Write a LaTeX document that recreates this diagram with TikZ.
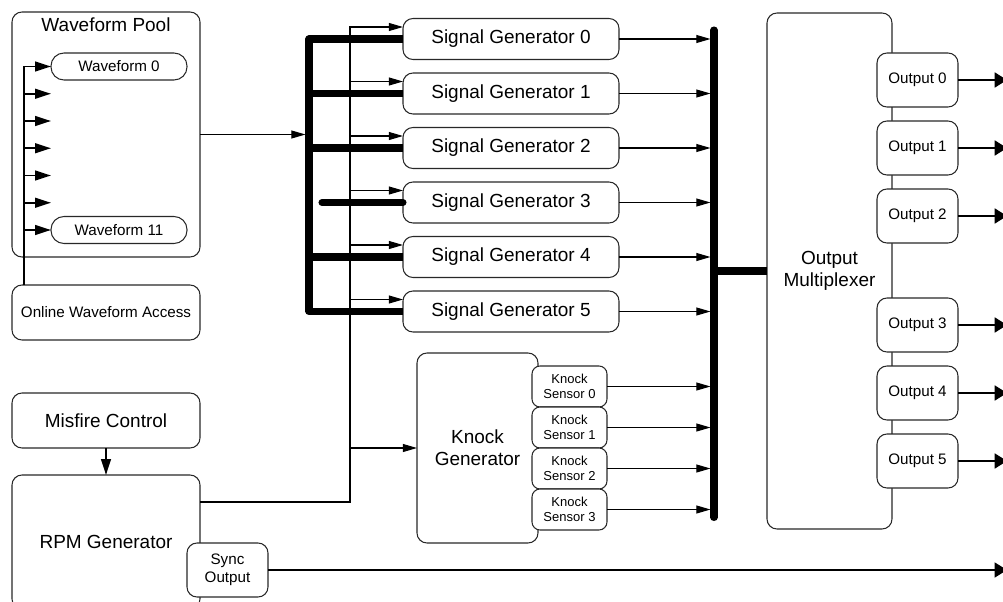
\documentclass[tikz,border=0pt]{standalone}
\usepackage{fontspec}
\setmainfont{Liberation Sans}
\usetikzlibrary{arrows.meta, positioning, calc}
\definecolor{edgegray}{RGB}{40,40,40}

\begin{document}
\begin{tikzpicture}[
    box/.style={rectangle, draw=edgegray, fill=white, line width=0.6pt, rounded corners=0.2cm, align=center, inner sep=0pt, outer sep=0pt, font=\fontsize{10.8}{12.5}\selectfont},
    wide/.style={box, minimum width=3.76cm},
    sigbox/.style={box, minimum width=4.32cm, minimum height=0.82cm},
    wavebox/.style={box, minimum width=2.72cm, minimum height=0.54cm, rounded corners=0.26cm, font=\fontsize{8.65}{10.4}\selectfont},
    outbox/.style={box, minimum width=1.62cm, minimum height=1.08cm, font=\fontsize{8.65}{10.4}\selectfont},
    sensebox/.style={box, minimum width=1.5cm, minimum height=0.82cm, rounded corners=0.16cm, font=\fontsize{7.4}{8.9}\selectfont},
    arr/.style={-{Triangle[length=8pt, width=4.5pt]}, line width=0.6pt},
    heavyarr/.style={-{Triangle[length=9pt, width=5.5pt]}, line width=1.1pt},
    outarr/.style={-{Triangle[length=7pt, width=8.5pt]}, line width=1.1pt},
    syncarr/.style={-{Triangle[length=7pt, width=8.5pt]}, line width=0.8pt},
    bus/.style={line width=4pt, line join=round}
]
    \path[use as bounding box, clip] (0,0) rectangle (20.06,-12.04);

    \node (pool) [wide, minimum height=4.9cm] at (2.12,-2.69) {};
    \node (pooltitle) [font=\fontsize{10.8}{12.5}\selectfont] at ([yshift=-0.26cm]pool.north) {Waveform Pool};
    \node (wf0) [wavebox] at (2.38,-1.33) {Waveform 0};
    \node (wf11) [wavebox] at (2.38,-4.6) {Waveform 11};
    \node (online) [wide, minimum height=1.1cm, font=\fontsize{8.65}{10.4}\selectfont] at (2.12,-6.25) {Online Waveform Access};
    \node (misfire) [wide, minimum height=1.1cm] at (2.12,-8.41) {Misfire Control};
    \node (rpm) [wide, minimum height=2.68cm] at (2.12,-10.84) {RPM Generator};
    \node (sync) [outbox] at (4.55,-11.4) {Sync\\Output};

    \node (sg0) [sigbox] at (10.22,-0.78) {Signal Generator 0};
    \foreach \i [evaluate=\i as \j using int(\i-1)] in {1,...,5}
        \node (sg\i) [sigbox, below=0.27cm of sg\j] {Signal Generator \i};

    \node (knock) [box, minimum width=2.42cm, minimum height=3.8cm] at (9.55,-8.96) {Knock\\Generator};
    \node (ks0) [sensebox] at (11.39,-7.73) {Knock\\Sensor 0};
    \foreach \i [evaluate=\i as \j using int(\i-1)] in {1,...,3}
        \node (ks\i) [sensebox, below=0cm of ks\j] {Knock\\Sensor \i};

    \node (mux) [box, minimum width=2.5cm, minimum height=10.32cm] at (16.59,-5.42) {Output\\Multiplexer};
    \node (out0) [outbox] at (18.35,-1.6) {Output 0};
    \foreach \i/\gap [evaluate=\i as \j using int(\i-1)] in {1/0.28,2/0.28,3/1.1,4/0.28,5/0.28}
        \node (out\i) [outbox, below=\gap cm of out\j] {Output \i};

    \coordinate (tapx) at (0.48,0);
    \coordinate (busx) at (6.18,0);
    \coordinate (feedx) at (7.0,0);
    \coordinate (rbus) at (14.28,0);
    \coordinate (rim) at (20.14,0);
    \coordinate (rpmout) at ([yshift=0.8cm]rpm.east);

    \coordinate (slot0) at (wf0.west);
    \coordinate (slot6) at (wf11.west);
    \foreach \k in {1,...,5}
        \coordinate (slot\k) at ($(wf0.west)!\k/6!(wf11.west)$);
    \draw[line width=1.1pt] (online.north -| tapx) -- (slot0 -| tapx);
    \foreach \k in {0,...,6}
        \draw[heavyarr] (slot\k -| tapx) -- (slot\k);

    \draw[arr, shorten >=2pt] (pool.east) -- (pool.east -| busx);
    \draw[bus] (sg0.west) -- (sg0.west -| busx) -- (sg5.west -| busx) -- (sg5.west);
    \foreach \i in {1,2,4}
        \draw[bus] (sg\i.west -| busx) -- (sg\i.west);
    \draw[bus, line cap=round] ([xshift=0.26cm]sg3.west -| busx) -- (sg3.west);

    \draw[arr] (rpmout) -- (rpmout -| feedx) -- ([yshift=0.24cm]sg0.west -| feedx) -- ([yshift=0.24cm]sg0.west);
    \foreach \i in {1,...,5}
        \draw[arr] ([yshift=0.24cm]sg\i.west -| feedx) -- ([yshift=0.24cm]sg\i.west);
    \draw[arr] (knock.west -| feedx) -- (knock.west);

    \draw[bus, line cap=round] ([yshift=0.18cm]sg0.east -| rbus) -- ([yshift=-0.16cm]ks3.east -| rbus);
    \foreach \i in {0,...,5}
        \draw[arr, shorten >=2pt] (sg\i.east) -- (sg\i.east -| rbus);
    \foreach \i in {0,...,3}
        \draw[arr, shorten >=2pt] (ks\i.east) -- (ks\i.east -| rbus);
    \draw[bus] (rbus |- mux.west) -- (mux.west);

    \foreach \i in {0,...,5}
        \draw[outarr] (out\i.east) -- (out\i.east -| rim);
    \draw[syncarr] (sync.east) -- (sync.east -| rim);
    \draw[heavyarr] (misfire) -- (rpm);
\end{tikzpicture}
\end{document}
